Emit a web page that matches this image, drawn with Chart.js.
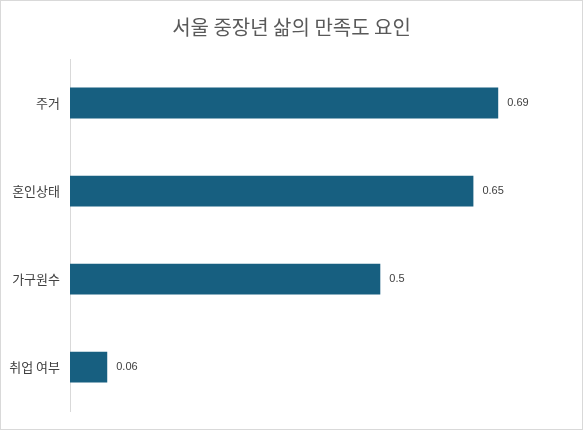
<!DOCTYPE html>
<html>
<head>
<meta charset="utf-8">
<script src="https://cdn.jsdelivr.net/npm/chart.js@4"></script>
<style>
    html, body { margin: 0; padding: 0; background: #fff; }
    #wrap { width: 583px; height: 430px; box-sizing: border-box; border: 1px solid #d9d9d9; }
</style>
</head>
<body>
<div id="wrap"><canvas id="barChart" width="581" height="428"></canvas></div>
<script>
const categories = ["주거", "혼인상태", "가구원수", "취업 여부"];
const values = [0.69, 0.65, 0.5, 0.06];
const valueLabels = ["0.69", "0.65", "0.5", "0.06"];

const fontFamily = "'Noto Sans CJK KR', 'Noto Sans', sans-serif";

// draws the value next to each bar end
const valueLabelPlugin = {
    id: "valueLabels",
    afterDatasetsDraw(chart) {
        const ctx = chart.ctx;
        const meta = chart.getDatasetMeta(0);
        ctx.save();
        ctx.font = "11px 'Liberation Sans', Arial, sans-serif";
        ctx.fillStyle = "#404040";
        ctx.textAlign = "left";
        ctx.textBaseline = "middle";
        meta.data.forEach((bar, i) => {
            ctx.fillText(valueLabels[i], bar.x + 9, bar.y);
        });
        ctx.restore();
    }
};

const ctx = document.getElementById("barChart").getContext("2d");
new Chart(ctx, {
    type: "bar",
    data: {
        labels: categories,
        datasets: [{
            data: values,
            backgroundColor: "#175f80",
            barPercentage: 0.7,
            categoryPercentage: 0.5
        }]
    },
    options: {
        indexAxis: "y",
        responsive: false,
        animation: false,
        layout: { padding: { top: 0, right: 0, bottom: 15, left: 0 } },
        plugins: {
            legend: { display: false },
            tooltip: { enabled: false },
            title: {
                display: true,
                text: "서울 중장년 삶의 만족도 요인",
                color: "#595959",
                font: { family: fontFamily, size: 20, weight: "normal" },
                padding: { top: 14, bottom: 20 }
            }
        },
        scales: {
            x: {
                display: false,
                min: 0,
                max: 0.825
            },
            y: {
                grid: { display: false, drawTicks: false },
                border: { display: true, color: "#d9d9d9" },
                ticks: {
                    color: "#404040",
                    padding: 10,
                    font: { family: fontFamily, size: 13 }
                },
                afterFit(scale) { scale.width = 69; }
            }
        }
    },
    plugins: [valueLabelPlugin]
});
</script>
</body>
</html>
